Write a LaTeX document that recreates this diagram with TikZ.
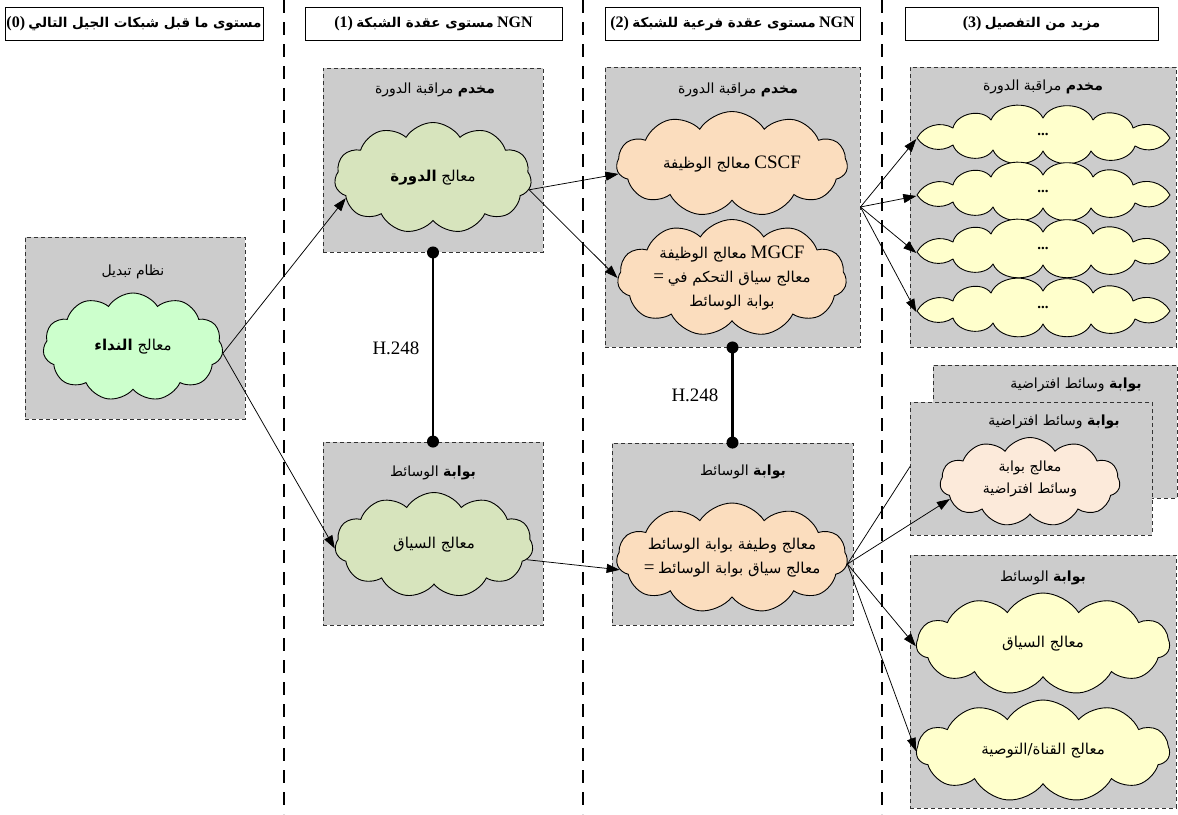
\documentclass[tikz,border=0pt]{standalone}
\usepackage{fontspec}
\setmainfont{Liberation Serif}
\newfontfamily\arfont[Script=Arabic]{DejaVu Sans}
\TeXXeTstate=1
\usetikzlibrary{shapes.symbols,arrows.meta}
% Arabic run, set right to left
\newcommand\artxt[1]{{\arfont\beginR #1\endR}}
% Latin words set larger than the Arabic around them
\newcommand\latw[1]{{\fontsize{19}{24}\selectfont #1}}
\newcommand\lathd[1]{{\fontsize{16}{20}\selectfont #1}}

\definecolor{boxgray}{RGB}{204,204,204}
\definecolor{mint}{RGB}{204,255,204}
\definecolor{olivegreen}{RGB}{215,228,189}
\definecolor{peach}{RGB}{251,221,190}
\definecolor{lightpeach}{RGB}{252,234,218}
\definecolor{paleyellow}{RGB}{255,255,204}

\tikzset{
  hdr/.style={draw, fill=white, line width=0.8pt, minimum height=33pt,
    inner sep=0pt, font=\fontsize{13.5}{16}\selectfont\bfseries},
  grpbox/.style={draw=black!80, dash pattern=on 4pt off 3pt, fill=boxgray,
    line width=0.9pt, inner sep=0pt},
  puff/.style={cloud, cloud puffs=11, cloud puff arc=115, cloud ignores aspect,
    draw, line width=0.9pt, inner sep=0pt},
  slot/.style={inner sep=0pt, minimum width=253pt, minimum height=57pt,
    font=\fontsize{15}{18}\selectfont\bfseries},
  ttl/.style={font=\fontsize{14}{17}\selectfont, inner sep=1pt},
  ctext/.style={font=\fontsize{15}{24}\selectfont, align=center, inner sep=0pt},
  conn/.style={-{Triangle[length=13pt,width=9pt]}, line width=0.75pt},
  h248/.style={line width=2.6pt},
  hlabel/.style={font=\fontsize{19}{22}\selectfont, inner sep=1pt},
  sep/.style={line width=1.8pt, dash pattern=on 13pt off 9pt},
  % long, flat cloud with pointed end lobes
  flatcloud/.pic={
    \path[pic actions, line width=0.9pt, line join=round]
      (-126,4) to[bend left=45] (-90,-6) to[bend left=65] (-52,-14)
      to[bend left=65] (0,-16) to[bend left=65] (50,-14)
      to[bend left=65] (90,-6) to[bend left=45] (127,4)
      to[bend left=45] (92,12) to[bend left=65] (48,17)
      to[bend left=65] (0,17) to[bend left=65] (-50,16)
      to[bend left=65] (-90,11) to[bend left=45] cycle;
  }
}

\begin{document}
\begin{tikzpicture}[x=1pt,y=-1pt]
\useasboundingbox (0,0) rectangle (1178,814);

% level separators
\coordinate (s1t) at (284,0);  \coordinate (s1b) at (284,814);
\coordinate (s2t) at (583,0);  \coordinate (s2b) at (583,814);
\coordinate (s3t) at (882,0);  \coordinate (s3b) at (882,814);
\draw[sep] (s1t) -- (s1b);
\draw[sep] (s2t) -- (s2b);
\draw[sep] (s3t) -- (s3b);

% level headers
\node[hdr, minimum width=258pt] (h0) at (134,23.5)
  {\lathd{(0)} \artxt{مستوى ما قبل شبكات الجيل التالي}};
\node[hdr, minimum width=257pt] (h1) at (433.5,23.5)
  {\lathd{(1)} \artxt{مستوى عقدة الشبكة} \lathd{NGN}};
\node[hdr, minimum width=255pt] (h2) at (732.5,23.5)
  {\lathd{(2)} \artxt{مستوى عقدة فرعية للشبكة} \lathd{NGN}};
\node[hdr, minimum width=253pt] (h3) at (1031.5,23.5)
  {\lathd{(3)} \artxt{مزيد من التفصيل}};

% level 0: switching system
\node[grpbox, minimum width=220pt, minimum height=182pt] (ba) at (135,328) {};
\node[ttl] (ta) at (133,272) {\artxt{نظام تبديل}};
\node[puff, fill=mint, minimum width=180pt, minimum height=108pt] (ca) at (133,347) {};
\node[ctext] (la) at (ca.center) {\artxt{معالج {\bfseries النداء}}};

% level 1: session control server and media gateway
\node[grpbox, minimum width=220pt, minimum height=184pt] (bb) at (433,160) {};
\node[ttl] (tb) at (435,90) {\artxt{{\bfseries مخدم} مراقبة الدورة}};
\node[puff, fill=olivegreen, minimum width=197pt, minimum height=111pt] (cb) at (433,178) {};
\node[ctext] (lb) at (cb.center) {\artxt{معالج {\bfseries الدورة}}};

\node[grpbox, minimum width=220pt, minimum height=183pt] (bc) at (433,533.5) {};
\node[ttl] (tc) at (433,473) {\artxt{{\bfseries بوابة} الوسائط}};
\node[puff, fill=olivegreen, minimum width=198pt, minimum height=105pt] (cc) at (434,545) {};
\node[ctext] (lc) at (cc.center) {\artxt{معالج السياق}};

% level 2: session control server and media gateway
\node[grpbox, minimum width=255pt, minimum height=280pt] (bd) at (732.5,207) {};
\node[ttl] (td) at (738,90) {\artxt{{\bfseries مخدم} مراقبة الدورة}};
\node[puff, fill=peach, minimum width=231pt, minimum height=105pt] (cd1) at (732,164) {};
\node[ctext] (ld1) at (cd1.center) {\artxt{معالج الوظيفة} \latw{CSCF}};
\node[puff, fill=peach, minimum width=229pt, minimum height=117pt] (cd2) at (732,278) {};
\node[ctext] (ld2) at (cd2.center)
  {\artxt{معالج الوظيفة} \latw{MGCF}\\ \latw{=} \artxt{معالج سياق التحكم في}\\ \artxt{بوابة الوسائط}};

\node[grpbox, minimum width=241pt, minimum height=182pt] (be) at (732.5,534) {};
\node[ttl] (te) at (743,472) {\artxt{{\bfseries بوابة} الوسائط}};
\node[puff, fill=peach, minimum width=231pt, minimum height=110pt] (ce) at (732,558) {};
\node[ctext] (le) at (ce.center)
  {\artxt{معالج وطيفة بوابة الوسائط}\\ \latw{=} \artxt{معالج سياق بوابة الوسائط}};

% level 3: further detail
\node[grpbox, minimum width=266pt, minimum height=280pt] (bf) at (1043,207) {};
\node[ttl] (tf) at (1043,87) {\artxt{{\bfseries مخدم} مراقبة الدورة}};
\foreach \i/\y in {1/134,2/191,3/248,4/307}{
  \pic[draw, fill=paleyellow] at (1043,\y) {flatcloud};
  \node[slot] (cf\i) at (1043,\y) {...};
}

\node[grpbox, minimum width=266pt, minimum height=253pt] (bh) at (1043,681.5) {};
\node[ttl] (th) at (1043,578) {\artxt{{\bfseries بوابة} الوسائط}};
\node[puff, fill=paleyellow, minimum width=253pt, minimum height=102pt] (ch1) at (1043,644) {};
\node[ctext] (lh1) at (ch1.center) {\artxt{معالج السياق}};
\node[puff, fill=paleyellow, minimum width=253pt, minimum height=102pt] (ch2) at (1043,751) {};
\node[ctext] (lh2) at (ch2.center) {\artxt{معالج القناة/التوصية}};

% virtual media gateways (one behind the other)
\node[grpbox, minimum width=244pt, minimum height=133pt] (bg2) at (1055,431.5) {};
\node[ttl] (tg2) at (1076,385) {\artxt{{\bfseries بوابة} وسائط افتراضية}};
\draw[conn] (ce.-3) -- (bg2.west);
\node[grpbox, minimum width=242pt, minimum height=133pt] (bg1) at (1031,468.5) {};
\node[ttl] (tg1) at (1054,422) {\artxt{{\bfseries بوابة} وسائط افتراضية}};
\node[puff, fill=lightpeach, minimum width=180pt, minimum height=89pt] (cg) at (1030,482) {};
\node[ctext, font=\fontsize{14}{22}\selectfont] (lg) at (1030,479)
  {\artxt{معالج بوابة}\\ \artxt{وسائط افتراضية}};

% H.248 control links
\draw[h248] (bb.south) -- (bc.north);
\fill (bb.south) circle (6pt) (bc.north) circle (6pt);
\node[hlabel] (hl1) at (396,348) {H.248};
\draw[h248] (bd.south) -- (be.north);
\fill (bd.south) circle (6pt) (be.north) circle (6pt);
\node[hlabel] (hl2) at (695,395) {H.248};

% refinement connectors
\draw[conn] (ca.-4) -- (cb.193);
\draw[conn] (ca.-4) -- (cc.182);
\draw[conn] (cb.-7) -- (cd1.185);
\draw[conn] (cb.-7) -- (cd2.west);
\draw[conn] (cc.-9) -- (ce.186);
\foreach \i in {1,...,4}{
  \draw[conn] (bd.east) -- ([yshift=-5pt]cf\i.west);
}
\draw[conn] (ce.-3) -- (cg.192);
\draw[conn] (ce.-3) -- (ch1.181);
\draw[conn] (ce.-3) -- (ch2.west);
\end{tikzpicture}
\end{document}
